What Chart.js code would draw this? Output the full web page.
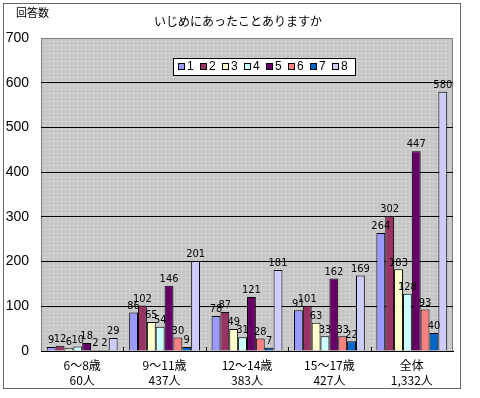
<!DOCTYPE html>
<html lang="ja">
<head>
<meta charset="utf-8">
<title>いじめにあったことありますか</title>
<script src="https://cdn.jsdelivr.net/npm/chart.js@4.4.1/dist/chart.umd.min.js"></script>
<style>
  html, body { margin: 0; padding: 0; background: #fff; }
  #chart { display: block; }
</style>
</head>
<body>
<canvas id="chart" width="480" height="398"></canvas>
<script>
// data
const categories = [
  ["6～8歳", "60人"],
  ["9～11歳", "437人"],
  ["12～14歳", "383人"],
  ["15～17歳", "427人"],
  ["全体", "1,332人"],
];
const seriesNames = ["1", "2", "3", "4", "5", "6", "7", "8"];
const series1 = [9, 86, 78, 91, 264];
const series2 = [12, 102, 87, 101, 302];
const series3 = [6, 65, 49, 63, 183];
const series4 = [10, 54, 31, 33, 128];
const series5 = [18, 146, 121, 162, 447];
const series6 = [2, 30, 28, 33, 93];
const series7 = [2, 9, 7, 22, 40];
const series8 = [29, 201, 181, 169, 580];
const yTicks = [0, 100, 200, 300, 400, 500, 600, 700];

const seriesValues = [series1, series2, series3, series4, series5, series6, series7, series8];
const seriesColors = ["#9999FF", "#993366", "#FFFFCC", "#CCFFFF", "#660066", "#FF8080", "#0066CC", "#CCCCFF"];

const CJK = "'Noto Sans CJK JP', 'DejaVu Sans', sans-serif";

// gray hatched background like the old Excel plot area
function makePattern(ctx) {
  const tile = document.createElement("canvas");
  tile.width = 4;
  tile.height = 4;
  const t = tile.getContext("2d");
  t.fillStyle = "#c4c4c4";
  t.fillRect(0, 0, 4, 4);
  t.fillStyle = "#d0d0d0";
  t.fillRect(0, 1, 4, 1);
  t.fillRect(1, 0, 1, 4);
  return ctx.createPattern(tile, "repeat");
}

const decorPlugin = {
  id: "decor",
  beforeDraw(chart) {
    const { ctx, chartArea } = chart;
    ctx.save();
    ctx.fillStyle = "#fff";
    ctx.fillRect(0, 0, chart.width, chart.height);

    // outer frame
    ctx.strokeStyle = "#666";
    ctx.lineWidth = 1;
    ctx.strokeRect(3.5, 3.5, 457, 385);

    // plot area
    ctx.fillStyle = makePattern(ctx);
    ctx.fillRect(chartArea.left, chartArea.top, chartArea.right - chartArea.left, chartArea.bottom - chartArea.top);
    ctx.strokeStyle = "#808080";
    ctx.strokeRect(chartArea.left + 0.5, chartArea.top + 0.5, chartArea.right - chartArea.left - 1, chartArea.bottom - chartArea.top);

    // titles
    ctx.fillStyle = "#000";
    ctx.textBaseline = "middle";
    ctx.textAlign = "left";
    ctx.font = "11px " + CJK;
    ctx.fillText("回答数", 16, 13);
    ctx.textAlign = "center";
    ctx.font = "12px " + CJK;
    ctx.fillText("いじめにあったことありますか", 238, 21);
    ctx.restore();
  },
  afterDatasetsDraw(chart) {
    const { ctx, chartArea } = chart;
    const xScale = chart.scales.x;
    ctx.save();

    // inward tick marks between categories
    const step = (chartArea.right - chartArea.left) / categories.length;
    ctx.strokeStyle = "#000";
    ctx.lineWidth = 1;
    for (let i = 1; i < categories.length; i++) {
      const x = Math.round(xScale.getPixelForValue(i) - step / 2) + 0.5;
      ctx.beginPath();
      ctx.moveTo(x, chartArea.bottom);
      ctx.lineTo(x, chartArea.bottom - 4);
      ctx.stroke();
    }

    // value labels above bars
    ctx.fillStyle = "#000";
    ctx.font = "11px 'Liberation Sans Narrow', 'DejaVu Sans Condensed', sans-serif";
    ctx.textAlign = "center";
    ctx.textBaseline = "bottom";
    chart.data.datasets.forEach((ds, di) => {
      const meta = chart.getDatasetMeta(di);
      meta.data.forEach((bar, i) => {
        ctx.fillText(String(ds.data[i]), bar.x, bar.y - 1);
      });
    });

    // legend box
    const boxX = 173, boxY = 58, boxW = 182, boxH = 17;
    ctx.fillStyle = "#fff";
    ctx.fillRect(boxX, boxY, boxW, boxH);
    ctx.strokeStyle = "#000";
    ctx.strokeRect(boxX + 0.5, boxY + 0.5, boxW, boxH);
    ctx.font = "12px 'Liberation Sans', sans-serif";
    ctx.textAlign = "left";
    ctx.textBaseline = "middle";
    chart.data.datasets.forEach((ds, di) => {
      const x = boxX + 5 + di * 22;
      ctx.fillStyle = ds.backgroundColor;
      ctx.fillRect(x, boxY + 5, 7, 7);
      ctx.strokeStyle = "#000";
      ctx.strokeRect(x + 0.5, boxY + 5.5, 6, 6);
      ctx.fillStyle = "#000";
      ctx.fillText(ds.label, x + 9, boxY + 9);
    });
    ctx.restore();
  },
};

const datasets = seriesValues.map((values, i) => ({
  label: seriesNames[i],
  data: values,
  backgroundColor: seriesColors[i],
  borderColor: "#000",
  borderWidth: 1,
  borderSkipped: "bottom",
  categoryPercentage: 0.86,
  barPercentage: 1.0,
}));

new Chart(document.getElementById("chart"), {
  type: "bar",
  data: { labels: categories, datasets },
  options: {
    responsive: false,
    animation: false,
    devicePixelRatio: 1,
    layout: { padding: { left: 0, right: 27, top: 38, bottom: 0 } },
    plugins: {
      legend: { display: false },
      title: { display: false },
      tooltip: { enabled: false },
    },
    scales: {
      x: {
        offset: true,
        grid: { display: false },
        border: { display: true, color: "#000" },
        ticks: {
          color: "#000",
          font: { family: CJK, size: 12, lineHeight: 1.25 },
          padding: -1,
          maxRotation: 0,
          autoSkip: false,
        },
        afterFit(scale) {
          scale.height = 47;
        },
      },
      y: {
        min: yTicks[0],
        max: yTicks[yTicks.length - 1],
        afterBuildTicks(scale) {
          scale.ticks = yTicks.map((v) => ({ value: v }));
        },
        grid: {
          drawTicks: false,
          color: (c) => (c.tick && c.tick.value > 0 && c.tick.value < 700 ? "#000" : "rgba(0,0,0,0)"),
        },
        border: { display: false },
        ticks: {
          color: "#000",
          font: { family: "'Liberation Sans', sans-serif", size: 14 },
          padding: 12,
        },
        afterFit(scale) {
          scale.width = 41;
        },
      },
    },
  },
  plugins: [decorPlugin],
});
</script>
</body>
</html>
